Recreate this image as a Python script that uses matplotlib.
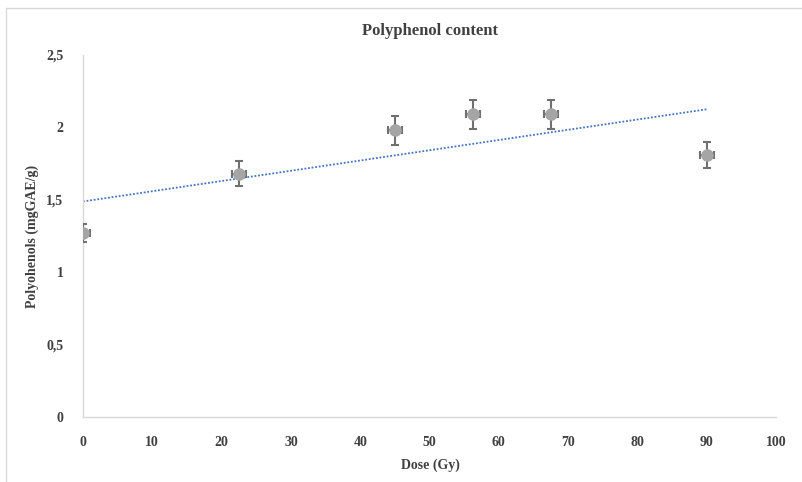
import numpy as np
import matplotlib
matplotlib.use("Agg")
import matplotlib.pyplot as plt
from matplotlib.patches import Rectangle

# Polyphenol content versus irradiation dose
dose = [0, 22.5, 45, 56.25, 67.5, 90]
polyphenols = [1.27, 1.68, 1.98, 2.09, 2.09, 1.81]
y_err = [0.06, 0.085, 0.10, 0.10, 0.10, 0.09]
x_err = [1.0, 1.0, 1.0, 1.0, 1.0, 1.0]

x_ticks = [0, 10, 20, 30, 40, 50, 60, 70, 80, 90, 100]
y_ticks = [0, 0.5, 1, 1.5, 2, 2.5]
y_tick_labels = ["0", "0,5", "1", "1,5", "2", "2,5"]

text_color = "#404040"
font = "Liberation Serif"

fig = plt.figure(figsize=(8.02, 4.82), dpi=100)
# chart-area frame
fig.patches.append(Rectangle((6 / 802, -0.05), 1.0, 1 - 8 / 482 + 0.05,
                             transform=fig.transFigure, fill=False,
                             edgecolor="#D9D9D9", linewidth=1.0))

ax = fig.add_axes([83 / 802, 1 - 417 / 482, (776 - 83) / 802, (417 - 55) / 482])

ax.errorbar(dose, polyphenols, yerr=y_err, xerr=x_err, fmt="o",
            color="#A5A5A5", markersize=8, ecolor="#707070",
            elinewidth=1.5, capsize=3, capthick=1.5, zorder=3)

# linear trend line
slope, intercept = np.polyfit(dose, polyphenols, 1)
xs = np.array([min(dose), max(dose)])
ax.plot(xs, slope * xs + intercept, linestyle=(0, (1, 1)),
        color="#4472C4", linewidth=1.3, zorder=2)

ax.set_xlim(0, 100)
ax.set_ylim(0, 2.5)
ax.set_xticks(x_ticks)
ax.set_yticks(y_ticks)
ax.set_yticklabels(y_tick_labels)
ax.tick_params(length=0, labelcolor=text_color, labelsize=10)
ax.tick_params(axis="x", pad=14)
ax.tick_params(axis="y", pad=14)
for lbl in ax.get_xticklabels() + ax.get_yticklabels():
    lbl.set_fontfamily(font)
    lbl.set_fontweight("bold")

for side in ("top", "right"):
    ax.spines[side].set_visible(False)
for side in ("left", "bottom"):
    ax.spines[side].set_color("#D9D9D9")
    ax.spines[side].set_linewidth(1.0)

fig.text(430 / 802, 1 - 31 / 482, "Polyphenol content", ha="center", va="center",
         fontsize=12, fontweight="bold", family=font, color=text_color)
fig.text(430 / 802, 1 - 465 / 482, "Dose (Gy)", ha="center", va="center",
         fontsize=10, fontweight="bold", family=font, color=text_color)
fig.text(32 / 802, 1 - 236 / 482, "Polyohenols (mgGAE/g)", ha="center", va="center",
         rotation=90, fontsize=10, fontweight="bold", family=font, color=text_color)

fig.savefig("out.png", dpi=100)
